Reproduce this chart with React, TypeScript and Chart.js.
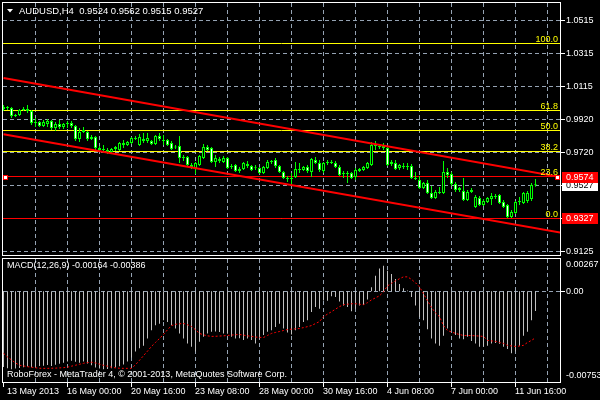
import React, { useEffect, useRef } from "react";
import { Chart, registerables } from "chart.js";

Chart.register(...registerables);

// ---------------- data ----------------
const symbolName = "AUDUSD,H4";

const openPrices = [
  0.9982, 0.9994, 0.9988, 0.9940, 0.9946, 0.9976, 0.9982, 0.9970, 0.9898, 0.9904,
  0.9880, 0.9892, 0.9910, 0.9868, 0.9892, 0.9874, 0.9892, 0.9898, 0.9880, 0.9802,
  0.9844, 0.9844, 0.9802, 0.9814, 0.9748, 0.9736, 0.9736, 0.9724, 0.9742, 0.9736,
  0.9778, 0.9766, 0.9778, 0.9808, 0.9766, 0.9802, 0.9790, 0.9790, 0.9772, 0.9820,
  0.9796, 0.9796, 0.9778, 0.9754, 0.9760, 0.9694, 0.9694, 0.9646, 0.9628, 0.9646,
  0.9688, 0.9754, 0.9748, 0.9664, 0.9682, 0.9664, 0.9688, 0.9634, 0.9646, 0.9610,
  0.9622, 0.9652, 0.9640, 0.9628, 0.9628, 0.9598, 0.9628, 0.9664, 0.9676, 0.9640,
  0.9604, 0.9568, 0.9562, 0.9574, 0.9622, 0.9616, 0.9634, 0.9604, 0.9676, 0.9658,
  0.9610, 0.9658, 0.9664, 0.9658, 0.9634, 0.9592, 0.9598, 0.9598, 0.9574, 0.9610,
  0.9616, 0.9628, 0.9646, 0.9766, 0.9760, 0.9760, 0.9748, 0.9652, 0.9658, 0.9628,
  0.9640, 0.9634, 0.9640, 0.9568, 0.9556, 0.9508, 0.9538, 0.9478, 0.9448, 0.9484,
  0.9478, 0.9604, 0.9592, 0.9532, 0.9496, 0.9490, 0.9436, 0.9484, 0.9394, 0.9448,
  0.9406, 0.9424, 0.9442, 0.9460, 0.9466, 0.9424, 0.9406, 0.9334, 0.9358, 0.9424,
  0.9418, 0.9430, 0.9442, 0.9524,
];

const highPrices = [
  1.0006, 1.0000, 0.9994, 0.9952, 0.9982, 0.9994, 1.0006, 0.9976, 0.9928, 0.9910,
  0.9916, 0.9922, 0.9916, 0.9904, 0.9916, 0.9898, 0.9910, 0.9910, 0.9886, 0.9868,
  0.9874, 0.9850, 0.9826, 0.9820, 0.9760, 0.9766, 0.9748, 0.9748, 0.9760, 0.9784,
  0.9796, 0.9790, 0.9814, 0.9820, 0.9832, 0.9838, 0.9838, 0.9796, 0.9826, 0.9838,
  0.9826, 0.9802, 0.9790, 0.9766, 0.9820, 0.9706, 0.9700, 0.9658, 0.9664, 0.9706,
  0.9772, 0.9766, 0.9754, 0.9706, 0.9694, 0.9700, 0.9694, 0.9652, 0.9652, 0.9634,
  0.9664, 0.9670, 0.9646, 0.9646, 0.9634, 0.9640, 0.9676, 0.9676, 0.9688, 0.9646,
  0.9610, 0.9580, 0.9598, 0.9664, 0.9658, 0.9640, 0.9646, 0.9688, 0.9694, 0.9676,
  0.9664, 0.9676, 0.9676, 0.9670, 0.9646, 0.9610, 0.9610, 0.9604, 0.9628, 0.9628,
  0.9640, 0.9664, 0.9784, 0.9790, 0.9772, 0.9778, 0.9754, 0.9676, 0.9676, 0.9652,
  0.9658, 0.9658, 0.9652, 0.9604, 0.9580, 0.9544, 0.9556, 0.9520, 0.9496, 0.9514,
  0.9670, 0.9628, 0.9604, 0.9544, 0.9514, 0.9568, 0.9496, 0.9508, 0.9466, 0.9460,
  0.9442, 0.9454, 0.9478, 0.9472, 0.9472, 0.9436, 0.9412, 0.9376, 0.9430, 0.9454,
  0.9484, 0.9490, 0.9538, 0.9562,
];

const lowPrices = [
  0.9970, 0.9976, 0.9928, 0.9934, 0.9940, 0.9970, 0.9958, 0.9886, 0.9874, 0.9874,
  0.9874, 0.9874, 0.9856, 0.9850, 0.9862, 0.9862, 0.9868, 0.9868, 0.9790, 0.9784,
  0.9838, 0.9790, 0.9796, 0.9736, 0.9730, 0.9718, 0.9712, 0.9718, 0.9730, 0.9730,
  0.9748, 0.9760, 0.9772, 0.9796, 0.9760, 0.9778, 0.9778, 0.9766, 0.9766, 0.9790,
  0.9766, 0.9760, 0.9736, 0.9742, 0.9658, 0.9670, 0.9640, 0.9622, 0.9592, 0.9640,
  0.9682, 0.9730, 0.9658, 0.9634, 0.9658, 0.9658, 0.9622, 0.9622, 0.9604, 0.9598,
  0.9616, 0.9628, 0.9610, 0.9616, 0.9592, 0.9592, 0.9622, 0.9652, 0.9628, 0.9598,
  0.9562, 0.9544, 0.9526, 0.9568, 0.9598, 0.9610, 0.9598, 0.9574, 0.9652, 0.9604,
  0.9598, 0.9646, 0.9652, 0.9628, 0.9580, 0.9568, 0.9538, 0.9562, 0.9556, 0.9604,
  0.9610, 0.9622, 0.9640, 0.9736, 0.9742, 0.9736, 0.9640, 0.9640, 0.9616, 0.9616,
  0.9622, 0.9616, 0.9562, 0.9556, 0.9502, 0.9502, 0.9472, 0.9442, 0.9442, 0.9472,
  0.9472, 0.9568, 0.9520, 0.9484, 0.9484, 0.9430, 0.9430, 0.9478, 0.9388, 0.9400,
  0.9400, 0.9418, 0.9406, 0.9442, 0.9412, 0.9388, 0.9327, 0.9328, 0.9352, 0.9406,
  0.9412, 0.9418, 0.9430, 0.9515,
];

const closePrices = [
  0.9994, 0.9988, 0.9940, 0.9946, 0.9976, 0.9982, 0.9970, 0.9898, 0.9904, 0.9880,
  0.9904, 0.9910, 0.9868, 0.9892, 0.9874, 0.9892, 0.9898, 0.9880, 0.9802, 0.9844,
  0.9856, 0.9802, 0.9814, 0.9748, 0.9736, 0.9738, 0.9724, 0.9742, 0.9754, 0.9778,
  0.9766, 0.9784, 0.9808, 0.9802, 0.9814, 0.9790, 0.9808, 0.9772, 0.9820, 0.9802,
  0.9790, 0.9766, 0.9742, 0.9751, 0.9688, 0.9688, 0.9646, 0.9634, 0.9658, 0.9700,
  0.9754, 0.9736, 0.9664, 0.9688, 0.9670, 0.9688, 0.9628, 0.9640, 0.9610, 0.9622,
  0.9658, 0.9640, 0.9616, 0.9626, 0.9598, 0.9634, 0.9664, 0.9670, 0.9640, 0.9604,
  0.9568, 0.9562, 0.9568, 0.9622, 0.9616, 0.9634, 0.9610, 0.9682, 0.9658, 0.9616,
  0.9658, 0.9664, 0.9658, 0.9634, 0.9586, 0.9598, 0.9592, 0.9568, 0.9616, 0.9622,
  0.9634, 0.9658, 0.9766, 0.9760, 0.9754, 0.9748, 0.9646, 0.9664, 0.9622, 0.9646,
  0.9634, 0.9640, 0.9568, 0.9562, 0.9508, 0.9538, 0.9478, 0.9448, 0.9484, 0.9478,
  0.9604, 0.9586, 0.9532, 0.9496, 0.9508, 0.9436, 0.9484, 0.9496, 0.9454, 0.9406,
  0.9430, 0.9448, 0.9460, 0.9454, 0.9418, 0.9394, 0.9334, 0.9364, 0.9424, 0.9430,
  0.9478, 0.9478, 0.9526, 0.9527,
];

const macdValues = [
  -0.00628, -0.00638, -0.00648, -0.00642, -0.00636, -0.0063, -0.00625, -0.0063, -0.00626, -0.0062,
  -0.00618, -0.00612, -0.0062, -0.0061, -0.00602, -0.00594, -0.00582, -0.00576, -0.00586, -0.00594,
  -0.00584, -0.006, -0.00614, -0.00632, -0.00642, -0.00648, -0.00646, -0.0064, -0.00632, -0.00622,
  -0.00608, -0.00582, -0.0055, -0.00501, -0.00474, -0.00452, -0.00392, -0.00323, -0.00282, -0.00269,
  -0.00241, -0.00255, -0.00282, -0.0031, -0.00351, -0.00392, -0.00433, -0.0046, -0.00501, -0.00419,
  -0.00378, -0.00351, -0.00337, -0.00335, -0.00339, -0.00351, -0.00353, -0.00378, -0.00392, -0.0039,
  -0.00405, -0.00392, -0.00405, -0.00433, -0.00392, -0.00364, -0.00337, -0.00323, -0.00296, -0.00269,
  -0.0031, -0.00343, -0.00359, -0.00323, -0.00296, -0.00255, -0.00241, -0.00173, -0.00132, -0.00145,
  -0.00077, -0.0008, -0.00041, -0.00049, -0.00085, -0.00118, -0.00132, -0.00167, -0.00145, -0.00118,
  -0.00115, -0.00068, 0.00033, 0.00129, 0.00189, 0.00211, 0.0017, 0.00142, 0.00101, 0.0006,
  0.00025, 0.00005, -0.00049, -0.00118, -0.00214, -0.00241, -0.00315, -0.00392, -0.00433, -0.00452,
  -0.0037, -0.0031, -0.00323, -0.00364, -0.00392, -0.00398, -0.00378, -0.00414, -0.00433, -0.0046,
  -0.00458, -0.00452, -0.00433, -0.0043, -0.00436, -0.0046, -0.0048, -0.00515, -0.00501, -0.00452,
  -0.0037, -0.00337, -0.00241, -0.00164,
];

const signalValues = [
  -0.00515, -0.00545, -0.0057, -0.00595, -0.00614, -0.0062, -0.00626, -0.0063, -0.00635, -0.00639,
  -0.0064, -0.0064, -0.00639, -0.00638, -0.00636, -0.00634, -0.0063, -0.00622, -0.00614, -0.00606,
  -0.00598, -0.00592, -0.00589, -0.00595, -0.00605, -0.00615, -0.00622, -0.0063, -0.00636, -0.00639,
  -0.0064, -0.0064, -0.00639, -0.0061, -0.00573, -0.00535, -0.00497, -0.00458, -0.00425, -0.00392,
  -0.00359, -0.0032, -0.00285, -0.00275, -0.0027, -0.00268, -0.00278, -0.00293, -0.0032, -0.0035,
  -0.00362, -0.0037, -0.00375, -0.00374, -0.00372, -0.0037, -0.00367, -0.00364, -0.00361, -0.00359,
  -0.00364, -0.0037, -0.00375, -0.0038, -0.00383, -0.00384, -0.00367, -0.0035, -0.00342, -0.00334,
  -0.00326, -0.00318, -0.00315, -0.00312, -0.00309, -0.00302, -0.00294, -0.00285, -0.00268, -0.00252,
  -0.00211, -0.0019, -0.0017, -0.00149, -0.00128, -0.00112, -0.00108, -0.00104, -0.00104, -0.00108,
  -0.00112, -0.00095, -0.00072, -0.00055, -0.00038, -0.00005, 0.00044, 0.00065, 0.00086, 0.00103,
  0.00119, 0.00119, 0.00098, 0.0007, 0.00036, -0.00021, -0.00079, -0.00135, -0.0018, -0.00211,
  -0.00285, -0.00326, -0.00338, -0.0035, -0.00359, -0.00367, -0.00367, -0.00368, -0.0037, -0.00372,
  -0.00375, -0.00408, -0.00412, -0.00416, -0.00425, -0.00433, -0.00449, -0.00454, -0.00458, -0.00455,
  -0.00449, -0.00425, -0.00408, -0.00386,
];

const priceAxisTicks = [1.0515, 1.0315, 1.0115, 0.992, 0.972, 0.9525, 0.9325, 0.9125];
const fibLow = 0.9327;
const fibHigh = 1.0376;
const fibLevels = [0, 23.6, 38.2, 50, 61.8, 100];
const redLevels = [0.9574, 0.9327];
const bidPrice = 0.9527;
const upperChannel = [
  { bar: 0, price: 1.0168 },
  { bar: 139.25, price: 0.9574 },
];
const lowerChannel = [
  { bar: 0, price: 0.983 },
  { bar: 139.25, price: 0.924 },
];
const macdAxisMax = 0.00267;
const macdAxisMin = -0.00753;
const timeLabelBars = [0, 16, 32, 48, 64, 80, 96, 112, 128];
const timeLabels = [
  "13 May 2013", "16 May 00:00", "20 May 16:00", "23 May 08:00", "28 May 00:00",
  "30 May 16:00", "4 Jun 08:00", "7 Jun 00:00", "11 Jun 16:00",
];
const footerText = "RoboForex - MetaTrader 4, \u00A9 2001-2013, MetaQuotes Software Corp.";

// ---------------- styling ----------------
const FONT_FAMILY = '"Liberation Sans", Arial, sans-serif';
const AXIS_FONT = `9px ${FONT_FAMILY}`;
const TITLE_FONT = `9.5px ${FONT_FAMILY}`;
const GRID_COLOR = "#95a3b3";
const GRID_DASH = [4, 3];
const GRID_BARS = 8;
const X_MIN = -0.125;
const X_MAX = 139.125;

const fibPrice = (lvl: number) => fibLow + ((fibHigh - fibLow) * lvl) / 100;
const last = (arr: number[]) => arr[arr.length - 1];
const crisp = (p: number) => Math.floor(p) + 0.5;

function hLine(ctx: any, a: any, py: number) {
  ctx.beginPath();
  ctx.moveTo(a.left, py);
  ctx.lineTo(a.right, py);
  ctx.stroke();
}
function vLine(ctx: any, a: any, px: number) {
  ctx.beginPath();
  ctx.moveTo(px, a.top);
  ctx.lineTo(px, a.bottom);
  ctx.stroke();
}
function drawGrid(ctx: any, a: any, x: any, y: any, yValues: number[]) {
  ctx.save();
  ctx.lineWidth = 1;
  ctx.strokeStyle = GRID_COLOR;
  ctx.setLineDash(GRID_DASH);
  for (let b = GRID_BARS; b <= X_MAX; b += GRID_BARS) vLine(ctx, a, crisp(x.getPixelForValue(b)));
  yValues.forEach((v) => hLine(ctx, a, crisp(y.getPixelForValue(v))));
  ctx.restore();
}
function drawFrame(ctx: any, a: any) {
  ctx.save();
  ctx.strokeStyle = "#ffffff";
  ctx.lineWidth = 1;
  ctx.setLineDash([]);
  ctx.strokeRect(a.left - 0.5, a.top - 0.5, a.right - a.left + 1, a.bottom - a.top + 1);
  ctx.restore();
}

const mainDecor = {
  id: "mainDecor",
  beforeDatasetsDraw(chart: any) {
    const { ctx, chartArea: a, scales } = chart;
    const y = scales.y;
    drawGrid(ctx, a, scales.x, y, priceAxisTicks);
    ctx.save();
    ctx.lineWidth = 1;
    ctx.setLineDash([]);
    ctx.strokeStyle = "#ffff00";
    fibLevels.forEach((l) => hLine(ctx, a, crisp(y.getPixelForValue(fibPrice(l)))));
    ctx.strokeStyle = "#ff0000";
    redLevels.forEach((v) => hLine(ctx, a, crisp(y.getPixelForValue(v))));
    ctx.restore();
  },
  afterDatasetsDraw(chart: any) {
    const { ctx, chartArea: a, scales } = chart;
    const y = scales.y;
    ctx.save();
    ctx.font = AXIS_FONT;
    ctx.fillStyle = "#ffff00";
    ctx.textAlign = "right";
    ctx.textBaseline = "alphabetic";
    fibLevels.forEach((l) => {
      const py = y.getPixelForValue(fibPrice(l));
      ctx.fillText(l.toFixed(1), a.right - 2, py - 1.5);
    });
    const my = Math.round(y.getPixelForValue(redLevels[0]));
    ctx.fillStyle = "#ffffff";
    ctx.strokeStyle = "#ff0000";
    ctx.lineWidth = 1;
    [a.left, a.right - 5].forEach((mx) => {
      ctx.fillRect(mx, my - 2, 5, 5);
      ctx.strokeRect(mx + 0.5, my - 1.5, 4, 4);
    });
    ctx.restore();
    drawFrame(ctx, a);
  },
  afterDraw(chart: any) {
    const { ctx, chartArea: a, scales } = chart;
    const y = scales.y;
    ctx.save();
    ctx.font = AXIS_FONT;
    ctx.textAlign = "left";
    ctx.textBaseline = "middle";
    ctx.fillStyle = "#ffffff";
    ctx.strokeStyle = "#ffffff";
    ctx.lineWidth = 1;
    priceAxisTicks.forEach((v) => {
      const py = crisp(y.getPixelForValue(v));
      ctx.beginPath();
      ctx.moveTo(a.right + 1, py);
      ctx.lineTo(a.right + 5, py);
      ctx.stroke();
      ctx.fillText(v.toFixed(4), a.right + 6, py);
    });
    const box = (v: number, bg: string, fg: string) => {
      const py = y.getPixelForValue(v);
      ctx.fillStyle = bg;
      ctx.fillRect(a.right + 2, Math.round(py) - 5, 36, 11);
      ctx.fillStyle = fg;
      ctx.fillText(v.toFixed(4), a.right + 6, py + 0.5);
    };
    box(bidPrice, "#ffffff", "#000000");
    box(redLevels[0], "#ff0000", "#ffffff");
    box(redLevels[1], "#ff0000", "#ffffff");
    ctx.fillStyle = "#ffffff";
    ctx.beginPath();
    ctx.moveTo(7, 9);
    ctx.lineTo(13, 9);
    ctx.lineTo(10, 12.5);
    ctx.closePath();
    ctx.fill();
    ctx.font = TITLE_FONT;
    const i = openPrices.length - 1;
    const title = `${symbolName}  ${openPrices[i].toFixed(4)} ${highPrices[i].toFixed(4)} ${lowPrices[i].toFixed(4)} ${closePrices[i].toFixed(4)}`;
    ctx.fillText(title, 19, 11);
    ctx.restore();
  },
};

const macdDecor = {
  id: "macdDecor",
  beforeDatasetsDraw(chart: any) {
    const { ctx, chartArea: a, scales } = chart;
    drawGrid(ctx, a, scales.x, scales.y, [0]);
  },
  afterDatasetsDraw(chart: any) {
    const { ctx, chartArea: a, scales } = chart;
    const x = scales.x;
    const y = scales.y;
    drawFrame(ctx, a);
    ctx.save();
    ctx.font = AXIS_FONT;
    ctx.fillStyle = "#ffffff";
    ctx.strokeStyle = "#ffffff";
    ctx.lineWidth = 1;
    ctx.textBaseline = "middle";
    ctx.textAlign = "left";
    const zy = crisp(y.getPixelForValue(0));
    ctx.beginPath();
    ctx.moveTo(a.right + 1, zy);
    ctx.lineTo(a.right + 5, zy);
    ctx.stroke();
    ctx.fillText(macdAxisMax.toFixed(5), a.right + 6, a.top + 6);
    ctx.fillText("0.00", a.right + 6, zy);
    ctx.fillText(macdAxisMin.toFixed(5), a.right + 6, a.bottom - 6);
    ctx.fillText(`MACD(12,26,9) ${last(macdValues).toFixed(5)} ${last(signalValues).toFixed(5)}`, 7, a.top + 6.5);
    ctx.fillText(footerText, 7, a.bottom - 7);
    timeLabelBars.forEach((b, k) => {
      const px = x.getPixelForValue(b);
      ctx.beginPath();
      ctx.moveTo(crisp(px), a.bottom + 1);
      ctx.lineTo(crisp(px), a.bottom + 5);
      ctx.stroke();
      ctx.fillText(timeLabels[k], k === 0 ? 7 : Math.floor(px), a.bottom + 10);
    });
    ctx.restore();
  },
};

const makeXScale = () => ({
  type: "linear",
  min: X_MIN,
  max: X_MAX,
  display: false,
  offset: false,
});

const makeYScale = (min: number, max: number) => ({
  type: "linear",
  position: "right",
  min,
  max,
  display: false,
});

export default function App() {
  const mainRef = useRef<HTMLCanvasElement>(null);
  const macdRef = useRef<HTMLCanvasElement>(null);

  useEffect(() => {
    const bars = openPrices.map((_, i) => i);
    const bodyColors = bars.map((i) => (closePrices[i] >= openPrices[i] ? "#000000" : "#ffffff"));

    const main = new Chart(mainRef.current as HTMLCanvasElement, {
      type: "bar",
      data: {
        datasets: [
          {
            type: "line",
            data: upperChannel.map((p) => ({ x: p.bar, y: p.price })),
            borderColor: "#ff0000",
            borderWidth: 2,
            pointRadius: 0,
            fill: false,
            order: 0,
          },
          {
            type: "line",
            data: lowerChannel.map((p) => ({ x: p.bar, y: p.price })),
            borderColor: "#ff0000",
            borderWidth: 2,
            pointRadius: 0,
            fill: false,
            order: 0,
          },
          {
            type: "bar",
            data: bars.map((i) => ({ x: i, y: [openPrices[i], closePrices[i]] })),
            backgroundColor: bodyColors,
            borderColor: "#00ff00",
            borderWidth: 1,
            borderSkipped: false,
            barThickness: 3,
            minBarLength: 1,
            grouped: false,
            inflateAmount: 0,
            order: 1,
          },
          {
            type: "bar",
            data: bars.map((i) => ({ x: i, y: [lowPrices[i], highPrices[i]] })),
            backgroundColor: "#00ff00",
            borderWidth: 0,
            barThickness: 1,
            grouped: false,
            inflateAmount: 0,
            order: 2,
          },
        ],
      } as any,
      options: {
        animation: false,
        responsive: false,
        maintainAspectRatio: false,
        devicePixelRatio: 1,
        events: [],
        layout: { padding: { left: 3, right: 40, top: 3, bottom: 1 } },
        plugins: { legend: { display: false }, tooltip: { enabled: false } },
        scales: {
          x: makeXScale(),
          y: makeYScale(0.9106, 1.0618),
        },
      } as any,
      plugins: [mainDecor],
    });

    const macd = new Chart(macdRef.current as HTMLCanvasElement, {
      type: "bar",
      data: {
        datasets: [
          {
            type: "line",
            data: bars.map((i) => ({ x: i, y: signalValues[i] })),
            borderColor: "#ff0000",
            borderWidth: 1,
            borderDash: [2, 2],
            pointRadius: 0,
            fill: false,
            order: 0,
          },
          {
            type: "bar",
            data: bars.map((i) => ({ x: i, y: macdValues[i] })),
            backgroundColor: "#c0c0c0",
            borderWidth: 0,
            barThickness: 1,
            grouped: false,
            inflateAmount: 0,
            order: 1,
          },
        ],
      } as any,
      options: {
        animation: false,
        responsive: false,
        maintainAspectRatio: false,
        devicePixelRatio: 1,
        events: [],
        layout: { padding: { left: 3, right: 40, top: 3, bottom: 18 } },
        plugins: { legend: { display: false }, tooltip: { enabled: false } },
        scales: {
          x: makeXScale(),
          y: makeYScale(macdAxisMin, macdAxisMax),
        },
      } as any,
      plugins: [macdDecor],
    });

    return () => {
      main.destroy();
      macd.destroy();
    };
  }, []);

  return (
    <div
      style={{
        position: "fixed",
        left: 0,
        top: 0,
        width: 600,
        height: 400,
        background: "#000000",
        overflow: "hidden",
      }}
    >
      <canvas
        ref={mainRef}
        width={600}
        height={256}
        style={{ position: "absolute", left: 0, top: 0, width: 600, height: 256 }}
      />
      <canvas
        ref={macdRef}
        width={600}
        height={144}
        style={{ position: "absolute", left: 0, top: 256, width: 600, height: 144 }}
      />
    </div>
  );
}
